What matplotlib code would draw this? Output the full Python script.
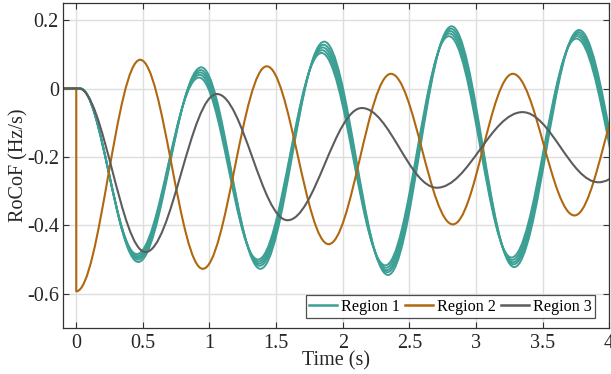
import matplotlib
matplotlib.use("Agg")
import matplotlib.pyplot as plt
from matplotlib.path import Path
from matplotlib.patches import PathPatch
from matplotlib.lines import Line2D

plt.rcParams["font.family"] = ["Liberation Serif", "DejaVu Serif"]
plt.rcParams["axes.unicode_minus"] = False

# peaks / troughs: time (s) and RoCoF (Hz/s)
# Region 1 is a bundle of several near-identical traces
r1_times = [
    [0.03, 0.466, 0.938, 1.382, 1.861, 2.340, 2.817, 3.287, 3.774, 4.26],
    [0.03, 0.463, 0.934, 1.378, 1.856, 2.335, 2.812, 3.282, 3.769, 4.255],
    [0.03, 0.460, 0.930, 1.373, 1.851, 2.330, 2.807, 3.277, 3.764, 4.25],
    [0.03, 0.457, 0.926, 1.368, 1.846, 2.325, 2.802, 3.272, 3.759, 4.245],
    [0.03, 0.454, 0.922, 1.364, 1.841, 2.320, 2.797, 3.267, 3.754, 4.24],
]
r1_values = [
    [0.0, -0.507, 0.062, -0.527, 0.137, -0.545, 0.182, -0.522, 0.171, -0.48],
    [0.0, -0.500, 0.054, -0.518, 0.128, -0.537, 0.175, -0.514, 0.165, -0.475],
    [0.0, -0.495, 0.047, -0.512, 0.120, -0.531, 0.168, -0.508, 0.159, -0.47],
    [0.0, -0.490, 0.040, -0.506, 0.112, -0.524, 0.161, -0.501, 0.153, -0.465],
    [0.0, -0.484, 0.032, -0.500, 0.104, -0.517, 0.153, -0.494, 0.146, -0.46],
]

r2_times = [0.0, 0.48, 0.95, 1.43, 1.894, 2.362, 2.827, 3.277, 3.74, 4.18]
r2_values = [-0.593, 0.084, -0.527, 0.065, -0.455, 0.043, -0.397, 0.043, -0.371, 0.04]

r3_times = [0.02, 0.52, 1.056, 1.586, 2.144, 2.707, 3.35, 3.92, 4.5]
r3_values = [0.0, -0.478, -0.016, -0.385, -0.057, -0.29, -0.069, -0.274, -0.09]

# flat pre-disturbance part
pre_t = [-0.1]
pre_v = [0.0]
r2_pre_t = [-0.1, 0.0]
r2_pre_v = [0.0, 0.0]

labels = ["Region 1", "Region 2", "Region 3"]
colors = ["#3c9f94", "#b0670f", "#5c5c5c"]


def wave_path(lead_t, lead_v, ext_t, ext_v, c=0.363):
    # smooth curve through extrema, horizontal tangent at each peak/trough
    verts = list(zip(lead_t, lead_v))
    codes = [Path.MOVETO] + [Path.LINETO] * (len(lead_t) - 1)
    verts.append((ext_t[0], ext_v[0]))
    codes.append(Path.LINETO)
    for i in range(len(ext_t) - 1):
        t0, t1 = ext_t[i], ext_t[i + 1]
        h = t1 - t0
        verts += [(t0 + c * h, ext_v[i]), (t1 - c * h, ext_v[i + 1]), (t1, ext_v[i + 1])]
        codes += [Path.CURVE4] * 3
    return Path(verts, codes)


fig = plt.figure(figsize=(6.11, 3.74), dpi=100)
ax = fig.add_axes([0.103, 0.123, 0.894, 0.869])

for tt, vv in zip(r1_times, r1_values):
    ax.add_patch(PathPatch(wave_path(pre_t, pre_v, tt, vv), fill=False,
                           edgecolor=colors[0], lw=1.4, joinstyle="round"))
ax.add_patch(PathPatch(wave_path(r2_pre_t, r2_pre_v, r2_times, r2_values), fill=False,
                       edgecolor=colors[1], lw=1.5, joinstyle="round"))
ax.add_patch(PathPatch(wave_path(pre_t, pre_v, r3_times, r3_values), fill=False,
                       edgecolor=colors[2], lw=1.5, joinstyle="round"))

ax.set_xlim(-0.1, 4)
ax.set_ylim(-0.7, 0.25)
xt = [0, 0.5, 1, 1.5, 2, 2.5, 3, 3.5, 4]
yt = [-0.6, -0.4, -0.2, 0, 0.2]
ax.set_xticks(xt)
ax.set_xticklabels([f"{v:g}" for v in xt])
ax.set_yticks(yt)
ax.set_yticklabels([f"{v:g}" for v in yt])
ax.grid(True, color="#dedede", lw=1.0)
ax.set_axisbelow(True)
ax.tick_params(direction="in", top=True, right=True, length=4.5, width=0.8,
               color="#333333", labelsize=14.5, labelcolor="#262626")
ax.tick_params(axis="x", pad=4)
ax.tick_params(axis="y", pad=3)
for s in ax.spines.values():
    s.set_color("#333333")
    s.set_linewidth(0.9)

ax.set_xlabel("Time (s)", fontsize=14.5, labelpad=-1, color="#262626")
ax.set_ylabel("RoCoF (Hz/s)", fontsize=14.5, labelpad=-1, color="#262626")

handles = [Line2D([], [], color=c, lw=1.8) for c in colors]
leg = ax.legend(handles, labels, loc="lower right", bbox_to_anchor=(0.974, 0.031),
                ncol=3, fontsize=11.6, frameon=True, fancybox=False, borderaxespad=0,
                handlelength=1.75, handletextpad=0.25, columnspacing=0.3,
                borderpad=0.2, edgecolor="#222222")
leg.get_frame().set_linewidth(0.9)

fig.savefig("out.png", dpi=100)
